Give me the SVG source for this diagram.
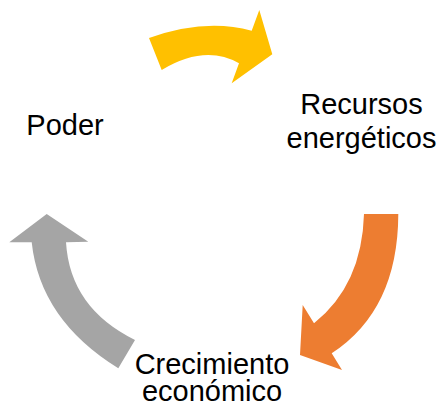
<svg xmlns="http://www.w3.org/2000/svg" width="439" height="407" viewBox="0 0 439 407">
<style>
.lbl{font-family:"Liberation Sans",Arial,sans-serif;font-size:29px;fill:#000;text-anchor:middle}
</style>
<rect width="439" height="407" fill="#fff"/>
<g id="connectors">
<path id="arrow-yellow" fill="#FFC000" d="M149,38 Q205,18 251.7,30.7 L259.3,10 L272.3,54.3 L231.7,83.3 L239,63.3 Q205,44 161.7,70 Z"/>
<path id="arrow-orange" fill="#ED7D31" d="M364,214 L398.3,214 Q398,310 331.7,353.3 L342,370 L300,355 L302.7,305 L314,323.3 Q362,285 364,214 Z"/>
<path id="arrow-gray" fill="#A5A5A5" d="M46.7,214 L88.3,241.7 L66,242.3 Q70,308 135,340 L118.3,368.3 Q40,320 31.7,242.3 L9.3,242.3 Z"/>
</g>
<g id="node-poder"><text class="lbl" x="65" y="135">Poder</text></g>
<g id="node-recursos"><text class="lbl" x="361.5" y="114">Recursos</text><text class="lbl" x="361.5" y="148">energéticos</text></g>
<g id="node-crecimiento"><text class="lbl" x="212" y="374">Crecimiento</text><text class="lbl" x="212" y="401">económico</text></g>
</svg>
